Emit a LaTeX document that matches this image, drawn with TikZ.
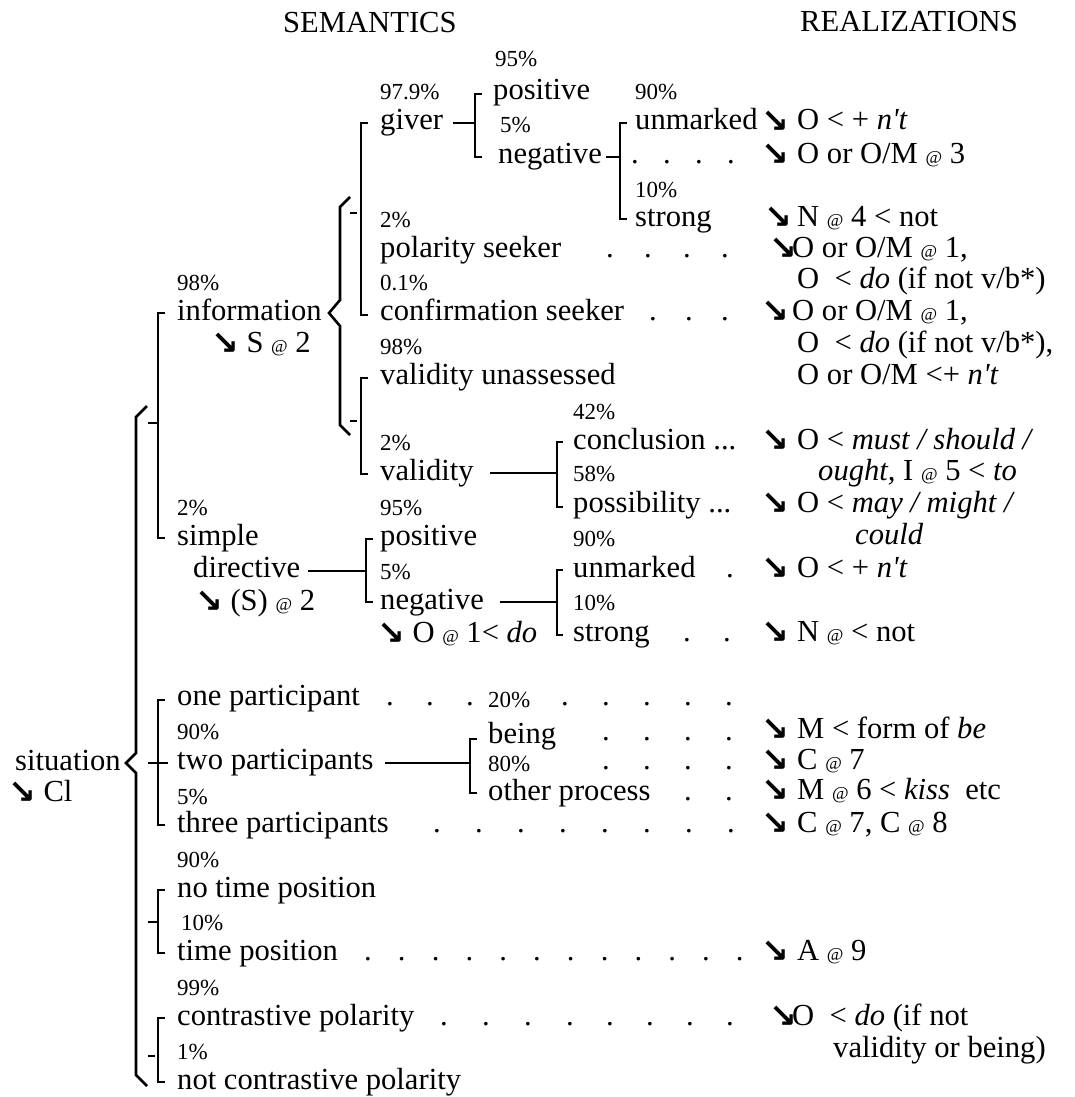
\documentclass[tikz,border=0pt]{standalone}
\usepackage{fontspec}
\setmainfont{Liberation Serif}
\newfontfamily\arrowfont{DejaVu Sans}
% small "@" used in the realization statements
\newcommand\smallat{{\fontsize{18}{18}\selectfont @}}
% realization arrow
\newcommand\downarr{{\arrowfont\bfseries\fontsize{33}{33}\selectfont\raisebox{-2pt}{↘}}}
% italic n't with a straight apostrophe
\newcommand\napos{\textit{n\textquotesingle t}}
\begin{document}
\begin{tikzpicture}[x=1pt,y=-1pt,
  txt/.style={anchor=base west, inner sep=0pt, font=\fontsize{30.6}{36}\selectfont},
  pct/.style={anchor=base west, inner sep=0pt, font=\fontsize{23}{27}\selectfont},
  leaderdot/.style={anchor=base, inner sep=0pt, font=\fontsize{30.6}{36}\selectfont},
  brk/.style={line width=2.6pt, line cap=butt, line join=miter},
]
\useasboundingbox (0,0) rectangle (1074,1097);

% ---------- column heads
\node[txt] (sem)  at (283,33) {SEMANTICS};
\node[txt] (real) at (800,32) {REALIZATIONS};

% ---------- entry condition
\node[txt] (sit)  at (15,770) {situation};
\node[txt] (sitR) at (8,801) {\downarr\ Cl};

% ---------- speech function
\node[pct] (p98info) at (177,290) {98\%};
\node[txt] (info)    at (177,320) {information};
\node[txt] (infoR)   at (211,352) {\downarr\ S \smallat\ 2};
\node[pct] (p2s)     at (177,515) {2\%};
\node[txt] (simple)  at (177,545) {simple};
\node[txt] (direct)  at (193,577) {directive};
\node[txt] (dirR)    at (195,610) {\downarr\ (S) \smallat\ 2};

% information: giver / seekers
\node[pct] (p979)    at (380,100) {97.9\%};
\node[txt] (giver)   at (380,130) {giver};
\node[pct] (p95a)    at (495,67)  {95\%};
\node[txt] (posA)    at (493,100) {positive};
\node[pct] (p5a)     at (500,132) {5\%};
\node[txt] (negA)    at (498,163) {negative};
\node[pct] (p90a)    at (635,100) {90\%};
\node[txt] (unmA)    at (635,130) {unmarked};
\node[pct] (p10a)    at (635,197) {10\%};
\node[txt] (strA)    at (635,226) {strong};
\node[pct] (p2a)     at (380,227) {2\%};
\node[txt] (polseek) at (380,257) {polarity seeker};
\node[pct] (p01)     at (380,290) {0.1\%};
\node[txt] (confseek) at (380,320) {confirmation seeker};

% information: validity
\node[pct] (p98vu)   at (380,354) {98\%};
\node[txt] (valun)   at (380,384) {validity unassessed};
\node[pct] (p2v)     at (380,450) {2\%};
\node[txt] (valid)   at (380,480) {validity};
\node[pct] (p42)     at (573,419) {42\%};
\node[txt] (concl)   at (573,449) {conclusion ...};
\node[pct] (p58)     at (573,481) {58\%};
\node[txt] (poss)    at (573,512) {possibility ...};

% directive polarity
\node[pct] (p95b)    at (380,515) {95\%};
\node[txt] (posB)    at (380,545) {positive};
\node[pct] (p5b)     at (380,579) {5\%};
\node[txt] (negB)    at (380,609) {negative};
\node[txt] (negBR)   at (377,642) {\downarr\ O \smallat\ 1< \textit{do}};
\node[pct] (p90b)    at (573,546) {90\%};
\node[txt] (unmB)    at (573,577) {unmarked};
\node[pct] (p10b)    at (573,610) {10\%};
\node[txt] (strB)    at (573,641) {strong};

% ---------- transitivity
\node[txt] (onep)    at (177,705) {one participant};
\node[pct] (p20)     at (488,707) {20\%};
\node[pct] (p90c)    at (177,739) {90\%};
\node[txt] (being)   at (488,743) {being};
\node[txt] (twop)    at (177,769) {two participants};
\node[pct] (p80)     at (488,771) {80\%};
\node[pct] (p5c)     at (177,804) {5\%};
\node[txt] (other)   at (488,800) {other process};
\node[txt] (threep)  at (177,832) {three participants};

% ---------- time position
\node[pct] (p90d)    at (177,867) {90\%};
\node[txt] (notime)  at (177,897) {no time position};
\node[pct] (p10d)    at (181,930) {10\%};
\node[txt] (time)    at (177,960) {time position};

% ---------- contrastive polarity
\node[pct] (p99)     at (177,995) {99\%};
\node[txt] (contr)   at (177,1025) {contrastive polarity};
\node[pct] (p1)      at (177,1059) {1\%};
\node[txt] (notcontr) at (177,1089) {not contrastive polarity};

% ---------- realization statements
\node[txt] (a1)  at (761,130) {\downarr};  \node[txt] (r1)  at (797,130) {O < + \napos};
\node[txt] (a2)  at (761,163) {\downarr};  \node[txt] (r2)  at (797,163) {O or O/M \smallat\ 3};
\node[txt] (a3)  at (764,226) {\downarr};  \node[txt] (r3)  at (797,226) {N \smallat\ 4 < not};
\node[txt] (a4)  at (769,257) {\downarr};  \node[txt] (r4)  at (792,257) {O or O/M \smallat\ 1,};
\node[txt] (r5)  at (797,288) {O\ \ < \textit{do} (if not v/b*)};
\node[txt] (a6)  at (761,320) {\downarr};  \node[txt] (r6)  at (792,320) {O or O/M \smallat\ 1,};
\node[txt] (r7)  at (797,352) {O\ \ < \textit{do} (if not v/b*),};
\node[txt] (r8)  at (797,384) {O or O/M <+ \napos};
\node[txt] (a9)  at (761,449) {\downarr};  \node[txt] (r9)  at (797,449) {O < \textit{must / should /}};
\node[txt] (r10) at (818,480) {\textit{ought,} I \smallat\ 5 < \textit{to}};
\node[txt] (a11) at (761,512) {\downarr};  \node[txt] (r11) at (797,512) {O < \textit{may / might /}};
\node[txt] (r12) at (855,544) {\textit{could}};
\node[txt] (a13) at (761,577) {\downarr};  \node[txt] (r13) at (797,577) {O < + \napos};
\node[txt] (a14) at (761,641) {\downarr};  \node[txt] (r14) at (797,641) {N \smallat\ < not};
\node[txt] (a15) at (761,738) {\downarr};  \node[txt] (r15) at (797,738) {M < form of \textit{be}};
\node[txt] (a16) at (761,769) {\downarr};  \node[txt] (r16) at (797,769) {C \smallat\ 7};
\node[txt] (a17) at (761,799) {\downarr};  \node[txt] (r17) at (797,799) {M \smallat\ 6 < \textit{kiss}\ \ etc};
\node[txt] (a18) at (761,832) {\downarr};  \node[txt] (r18) at (797,832) {C \smallat\ 7, C\ \smallat\ 8};
\node[txt] (a19) at (761,960) {\downarr};  \node[txt] (r19) at (797,960) {A \smallat\ 9};
\node[txt] (a20) at (769,1025) {\downarr}; \node[txt] (r20) at (792,1025) {O\ \ < \textit{do} (if not};
\node[txt] (r21) at (833,1057) {validity or being)};

% ---------- dotted leaders
\foreach \x [count=\i] in {635,667,699,731} \node[leaderdot] (dA\i) at (\x,163) {.};
\foreach \x [count=\i] in {610,648,687,725} \node[leaderdot] (dB\i) at (\x,257) {.};
\foreach \x [count=\i] in {653,689,725} \node[leaderdot] (dC\i) at (\x,320) {.};
\node[leaderdot] (dD1) at (730,577) {.};
\foreach \x [count=\i] in {687,727} \node[leaderdot] (dE\i) at (\x,641) {.};
\foreach \x [count=\i] in {390,430,470,565,606,647,688,729} \node[leaderdot] (dF\i) at (\x,705) {.};
\foreach \x [count=\i] in {606,647,688,729} \node[leaderdot] (dG\i) at (\x,740) {.};
\foreach \x [count=\i] in {606,647,688,729} \node[leaderdot] (dH\i) at (\x,769) {.};
\foreach \x [count=\i] in {688,729} \node[leaderdot] (dI\i) at (\x,800) {.};
\foreach \x [count=\i] in {437,479,521,563,605,647,689,731} \node[leaderdot] (dJ\i) at (\x,832) {.};
\foreach \k in {0,...,11} \node[leaderdot] (dK\k) at ({368+33.8*\k},960) {.};
\foreach \x [count=\i] in {444,486,528,570,610,650,690,730} \node[leaderdot] (dL\i) at (\x,1025) {.};

% ---------- system brackets and braces
% outer brace on situation
\draw[brk] (147,406) -- (136,417) -- (136,753) -- (126,763) -- (136,773) -- (136,1075) -- (147,1086);
% information / simple directive
\draw[brk] (165,313) -- (158,313) -- (158,538) -- (165,538);
\draw[brk] (148,423) -- (157,423);
% brace on information
\draw[brk] (350,197) -- (340,207) -- (340,300) -- (329,313) -- (340,326) -- (340,425) -- (350,435);
% giver / polarity seeker / confirmation seeker
\draw[brk] (368,123) -- (361,123) -- (361,315) -- (368,315);
\draw[brk] (350,213) -- (357,213);
% validity unassessed / validity
\draw[brk] (368,378) -- (361,378) -- (361,474) -- (368,474);
\draw[brk] (350,421) -- (357,421);
% giver -> positive / negative
\coordinate (gA) at (453,123); \coordinate (gB) at (475,123);
\draw[brk] (gA) -- (gB);
\draw[brk] (482,94) -- (475,94) -- (475,157) -- (482,157);
% negative -> unmarked / strong
\coordinate (nA) at (606,157); \coordinate (nB) at (620,157);
\draw[brk] (nA) -- (nB);
\draw[brk] (627,123) -- (620,123) -- (620,219) -- (627,219);
% validity -> conclusion / possibility
\coordinate (vA) at (490,473); \coordinate (vB) at (557,473);
\draw[brk] (vA) -- (vB);
\draw[brk] (563,442) -- (557,442) -- (557,507) -- (563,507);
% directive -> positive / negative
\coordinate (dA) at (308,571); \coordinate (dB) at (366,571);
\draw[brk] (dA) -- (dB);
\draw[brk] (373,539) -- (366,539) -- (366,602) -- (373,602);
% negative -> unmarked / strong
\coordinate (ngA) at (500,602); \coordinate (ngB) at (557,602);
\draw[brk] (ngA) -- (ngB);
\draw[brk] (563,570) -- (557,570) -- (557,635) -- (563,635);
% participants
\draw[brk] (165,700) -- (158,700) -- (158,825) -- (165,825);
\draw[brk] (148,763) -- (168,763);
% two participants -> being / other process
\coordinate (tA) at (385,763); \coordinate (tB) at (470,763);
\draw[brk] (tA) -- (tB);
\draw[brk] (477,739) -- (470,739) -- (470,793) -- (477,793);
% time position
\draw[brk] (165,890) -- (158,890) -- (158,953) -- (165,953);
\draw[brk] (148,922) -- (158,922);
% contrastive polarity
\draw[brk] (165,1018) -- (158,1018) -- (158,1082) -- (165,1082);
\draw[brk] (148,1056) -- (155,1056);
\end{tikzpicture}
\end{document}
